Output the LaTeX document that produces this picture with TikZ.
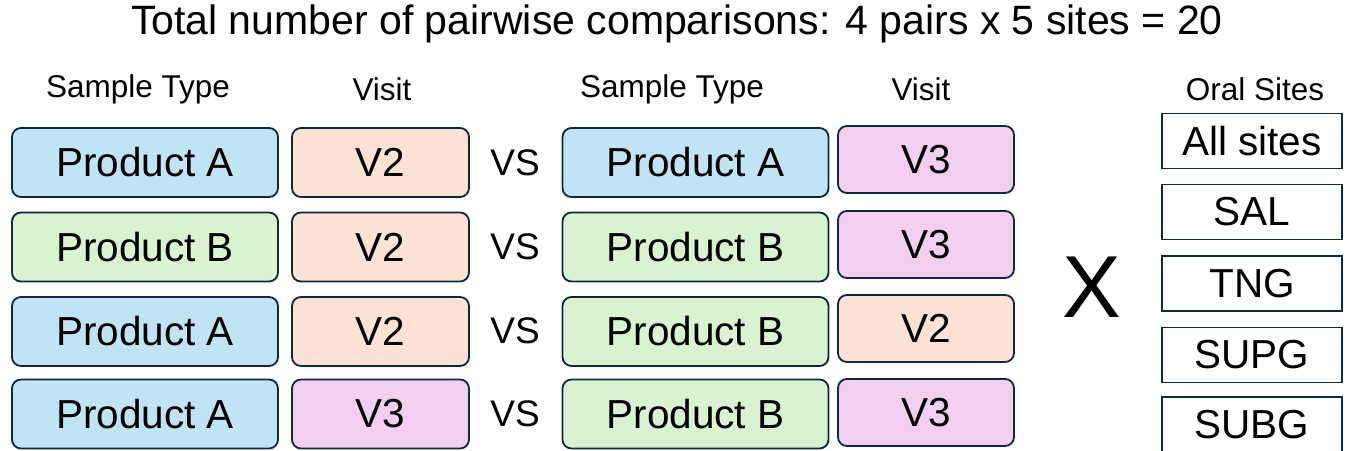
\documentclass[tikz,border=0pt]{standalone}
\usepackage{fontspec}
\setmainfont{Liberation Sans}
\definecolor{navy}{HTML}{0E2841}
\definecolor{pblue}{HTML}{C1E4F5}
\definecolor{pgreen}{HTML}{D9F2D0}
\definecolor{ppeach}{HTML}{FBE2D5}
\definecolor{ppink}{HTML}{F2CEEF}
\tikzset{
  rbox/.style={draw=navy, line width=1.8pt, rounded corners=9pt, inner sep=0pt, anchor=center, font=\fontsize{40.5}{40.5}\selectfont},
  prod/.style={rbox, minimum width=266pt, minimum height=69pt},
  visit/.style={rbox, minimum width=177pt, minimum height=69pt},
  pa/.style={prod, fill=pblue},
  pb/.style={prod, fill=pgreen},
  vtwo/.style={visit, fill=ppeach},
  vthree/.style={visit, fill=ppink},
  site/.style={draw=navy, line width=1.8pt, fill=white, minimum width=180pt, minimum height=55pt, inner sep=0pt, anchor=center, font=\fontsize{40.5}{40.5}\selectfont},
  hdr/.style={font=\fontsize{31.5}{31.5}\selectfont, anchor=center, inner sep=0pt},
  vs/.style={font=\fontsize{37}{37}\selectfont, anchor=center, inner sep=0pt}
}
\begin{document}
\begin{tikzpicture}[x=1pt, y=-1pt]
\useasboundingbox (0,0) rectangle (1347,450);
\fill[white] (0,0) rectangle (1347,450);
\node[font=\fontsize{41}{41}\selectfont, anchor=center, inner sep=0pt] (title) at (677,24) {Total number of pairwise comparisons: 4 pairs x 5 sites = 20};
\node[hdr] (h1) at (138,89) {Sample Type};
\node[hdr] (h2) at (382,89) {Visit};
\node[hdr] (h3) at (672,89) {Sample Type};
\node[hdr] (h4) at (921,89) {Visit};
\node[hdr] (h5) at (1255,89) {Oral Sites};
% row 1
\node[pa] (a1) at (145,162.5) {Product A};
\node[vtwo] (b1) at (380.5,162.5) {V2};
\node[vs] (vs1) at (515,163) {VS};
\node[pa] (c1) at (695.5,162.5) {Product A};
\node[vthree, minimum width=176pt, minimum height=67pt] (d1) at (926,159.5) {V3};
% row 2
\node[pb] (a2) at (145,247) {Product B};
\node[vtwo] (b2) at (380.5,247) {V2};
\node[vs] (vs2) at (515,247) {VS};
\node[pb] (c2) at (695.5,247) {Product B};
\node[vthree, minimum width=176pt, minimum height=67pt] (d2) at (926,244.5) {V3};
% row 3
\node[pa] (a3) at (145,331.5) {Product A};
\node[vtwo] (b3) at (380.5,331.5) {V2};
\node[vs] (vs3) at (515,331) {VS};
\node[pb] (c3) at (695.5,331.5) {Product B};
\node[vtwo, minimum width=176pt, minimum height=67pt] (d3) at (926,328.5) {V2};
% row 4
\node[pa] (a4) at (145,414) {Product A};
\node[vthree] (b4) at (380.5,414) {V3};
\node[vs] (vs4) at (515,414) {VS};
\node[pb] (c4) at (695.5,414) {Product B};
\node[vthree, minimum width=176pt, minimum height=67pt] (d4) at (926,412.5) {V3};
% X
\node[font=\fontsize{88}{88}\selectfont, anchor=center, inner sep=0pt] (x) at (1092,287) {X};
% sites
\node[site] (s1) at (1252,141) {All sites};
\node[site] (s2) at (1252,212) {SAL};
\node[site] (s3) at (1252,283.5) {TNG};
\node[site] (s4) at (1252,355) {SUPG};
\node[site] (s5) at (1252,424.5) {SUBG};
\end{tikzpicture}
\end{document}
